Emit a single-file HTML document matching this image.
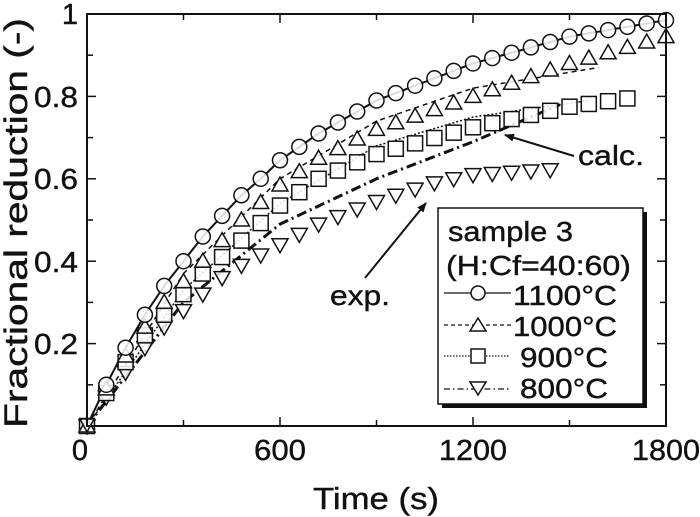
<!DOCTYPE html>
<html><head><meta charset="utf-8"><style>body{margin:0;background:#fff}svg{display:block}text{font-family:"Liberation Sans",Arial,sans-serif;fill:#111;stroke:#111;stroke-width:0.4}</style></head>
<body>
<svg id="s" width="700" height="517" viewBox="0 0 700 517" xmlns="http://www.w3.org/2000/svg">
<defs><marker id="ah" markerWidth="10" markerHeight="8" refX="9" refY="4" orient="auto" markerUnits="userSpaceOnUse"><path d="M0,0 L10,4 L0,8 z" fill="#111"/></marker></defs>
<g id="plot"></g>
<rect x="87" y="14" width="579" height="412" fill="none" stroke="#111" stroke-width="2"/>
<g font-size="29">
<text x="80" y="460" text-anchor="middle">0</text>
<text x="280" y="460" text-anchor="middle" textLength="52" lengthAdjust="spacingAndGlyphs">600</text>
<text x="473" y="460" text-anchor="middle" textLength="68" lengthAdjust="spacingAndGlyphs">1200</text>
<text x="666" y="460" text-anchor="middle" textLength="68" lengthAdjust="spacingAndGlyphs">1800</text>
<text x="78" y="24" text-anchor="end">1</text>
<text x="78" y="107" text-anchor="end" textLength="44" lengthAdjust="spacingAndGlyphs">0.8</text>
<text x="78" y="189" text-anchor="end" textLength="44" lengthAdjust="spacingAndGlyphs">0.6</text>
<text x="78" y="272" text-anchor="end" textLength="44" lengthAdjust="spacingAndGlyphs">0.4</text>
<text x="78" y="354" text-anchor="end" textLength="44" lengthAdjust="spacingAndGlyphs">0.2</text>
</g>
<text x="313" y="509" font-size="31" textLength="126" lengthAdjust="spacingAndGlyphs">Time (s)</text>
<text transform="translate(27,428) rotate(-90)" font-size="32" textLength="410" lengthAdjust="spacingAndGlyphs">Fractional reduction (-)</text>
<text x="578" y="165" font-size="28" textLength="66" lengthAdjust="spacingAndGlyphs">calc.</text>
<line x1="574" y1="156" x2="505" y2="135" stroke="#111" stroke-width="2" marker-end="url(#ah)"/>
<text x="330" y="305" font-size="28" textLength="60" lengthAdjust="spacingAndGlyphs">exp.</text>
<line x1="365" y1="278" x2="426" y2="203" stroke="#111" stroke-width="2" marker-end="url(#ah)"/>
<rect x="442" y="212" width="205" height="196" fill="#111"/>
<rect x="438" y="208" width="205" height="196" fill="#fff" stroke="#111" stroke-width="1.5"/>
<g font-size="28">
<text x="448" y="241" textLength="125" lengthAdjust="spacingAndGlyphs">sample 3</text>
<text x="446" y="275" textLength="185" lengthAdjust="spacingAndGlyphs">(H:Cf=40:60)</text>
<text x="513" y="305" textLength="104" lengthAdjust="spacingAndGlyphs">1100°C</text>
<text x="513" y="336" textLength="104" lengthAdjust="spacingAndGlyphs">1000°C</text>
<text x="520" y="367" textLength="88" lengthAdjust="spacingAndGlyphs">900°C</text>
<text x="520" y="398" textLength="88" lengthAdjust="spacingAndGlyphs">800°C</text>
</g>
<line x1="444" y1="293" x2="511" y2="293" stroke="#111" stroke-width="1.3"/>
<circle cx="478" cy="293" r="7" fill="#fff" stroke="#111" stroke-width="1.5"/>
<line x1="444" y1="325" x2="511" y2="325" stroke="#111" stroke-width="1.3" stroke-dasharray="4,3"/>
<path d="M478,318 L486,331 L470,331 Z" fill="#fff" stroke="#111" stroke-width="1.5"/>
<line x1="444" y1="356" x2="510" y2="356" stroke="#111" stroke-width="1.2" stroke-dasharray="1.5,1.5"/>
<rect x="471" y="349" width="14" height="14" fill="#fff" stroke="#111" stroke-width="1.5"/>
<line x1="444" y1="389" x2="510" y2="389" stroke="#111" stroke-width="1.3" stroke-dasharray="6,3,1.5,3"/>
<path d="M470,382 L486,382 L478,395 Z" fill="#fff" stroke="#111" stroke-width="1.5"/>
</svg>
<script>
const X=t=>87+t*579/1800, Y=v=>426-v*412;
function interp(p,t){for(let i=1;i<p.length;i++){if(t<=p[i][0]){const a=p[i-1],b=p[i];return a[1]+(b[1]-a[1])*(t-a[0])/(b[0]-a[0]);}}return p[p.length-1][1];}
const g=document.getElementById('plot');let h='';
for(let t=300;t<1800;t+=300){const x=X(t),l=t%600?6:9;h+=`<line x1="${x}" y1="426" x2="${x}" y2="${426-l}" stroke="#111" stroke-width="1.5"/><line x1="${x}" y1="14" x2="${x}" y2="${14+l}" stroke="#111" stroke-width="1.5"/>`;}
for(let v=0.1;v<1;v+=0.1){const y=Y(v),l=(Math.round(v*10)%2)?6:9;h+=`<line x1="87" y1="${y}" x2="${87+l}" y2="${y}" stroke="#111" stroke-width="1.5"/><line x1="666" y1="${y}" x2="${666-l}" y2="${y}" stroke="#111" stroke-width="1.5"/>`;}
const e1=[[0,0],[60,.1],[120,.19],[180,.27],[240,.34],[300,.4],[360,.46],[420,.51],[480,.56],[540,.6],[600,.645],[720,.71],[900,.79],[1200,.88],[1500,.945],[1800,.985]];
const e2=[[0,0],[60,.09],[120,.17],[180,.24],[240,.3],[300,.35],[360,.4],[420,.45],[480,.5],[600,.585],[720,.65],[900,.72],[1200,.80],[1500,.88],[1800,.945]];
const e3=[[0,0],[60,.08],[120,.155],[180,.22],[240,.27],[300,.32],[360,.37],[420,.41],[480,.45],[600,.535],[720,.6],[900,.66],[1200,.725],[1500,.775],[1680,.795]];
const e4=[[0,0],[60,.07],[120,.13],[180,.19],[240,.24],[300,.28],[360,.32],[420,.36],[480,.39],[600,.44],[720,.49],[900,.545],[1080,.59],[1200,.61],[1440,.622]];
const c2=[[0,0],[300,.37],[600,.6],[900,.74],[1200,.82],[1590,.87]];
const c3=[[0,0],[300,.33],[600,.54],[900,.68],[1200,.75],[1560,.79]];
const c4=[[0,0],[300,.3],[600,.49],[900,.6],[1200,.69],[1470,.78]];
function line(p,t1,st){let d='';for(let t=0;t<=t1;t+=15)d+=(t?'L':'M')+X(t).toFixed(1)+','+Y(interp(p,t)).toFixed(1);h+=`<path d="${d}" fill="none" stroke="#111" ${st}/>`;}
line(e1,1800,'stroke-width="2"');
line(c2,1590,'stroke-width="1.5" stroke-dasharray="5,4"');
line(c3,1560,'stroke-width="1.5" stroke-dasharray="2,2"');
line(c4,1470,'stroke-width="3" stroke-dasharray="10,4,2,4"');
function pts(p,t0,t1,f){for(let t=t0;t<=t1;t+=60)h+=f(X(t),Y(interp(p,t)));}
const st='fill="#fff" fill-opacity="0.85" stroke="#111" stroke-width="1.5"';
pts(e4,0,1440,(x,y)=>`<path d="M${x-8},${y-6} L${x+8},${y-6} L${x},${y+8} Z" ${st}/>`);
pts(e3,0,1680,(x,y)=>`<rect x="${x-7.5}" y="${y-7.5}" width="15" height="15" ${st}/>`);
pts(e2,0,1800,(x,y)=>`<path d="M${x},${y-8} L${x+8},${y+6} L${x-8},${y+6} Z" ${st}/>`);
pts(e1,60,1800,(x,y)=>`<circle cx="${x}" cy="${y}" r="7.5" ${st}/>`);
h+=`<path d="M${X(0)-7},419 L${X(0)+7},419 L${X(0)},432 Z" ${st}/>`;
g.innerHTML=h;
</script>
</body></html>
